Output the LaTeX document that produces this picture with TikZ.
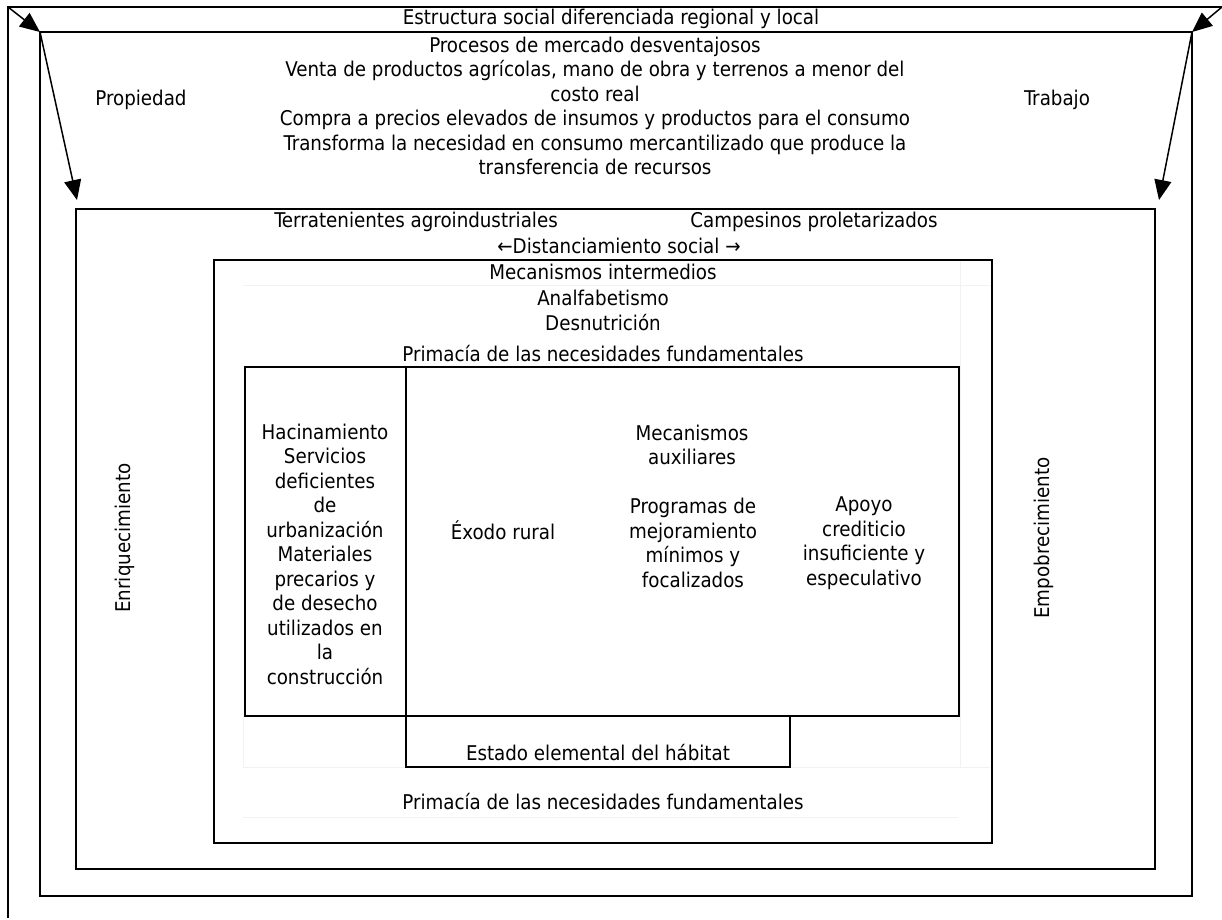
\documentclass[tikz,border=0pt]{standalone}
\usepackage{fontspec}
\setmainfont{DejaVu Sans Condensed}
\usetikzlibrary{arrows.meta,positioning}

\begin{document}
\begin{tikzpicture}[x=1pt,y=-1pt,
  box/.style={line width=2.2pt},
  cell/.style={line width=1pt,black!5},
  lbl/.style={inner sep=0pt,align=center,font=\fontsize{20.3}{24.5}\selectfont},
  link/.style={line width=1.5pt,-{Triangle[length=20pt,width=17pt]}}]
  \useasboundingbox (0,0) rectangle (1222,919);

  % Corners
  \coordinate (o1) at (8,7);
  \coordinate (o2) at (1222,7);
  \coordinate (p1) at (40,32);
  \coordinate (p2) at (1192,32);
  \coordinate (q1) at (77,200);
  \coordinate (q2) at (1159,200);

  % Faint table lines
  \draw[cell] (243,285) -- (992,285);
  \draw[cell] (960,260) -- (960,767);
  \draw[cell] (243,767) -- (990,767);
  \draw[cell] (243,716) -- (243,767);
  \draw[cell] (243,817) -- (958,817);

  % Frames
  \draw[box] (8,918) -- (o1) -- (o2);
  \draw[box] (p1) rectangle (1192,896);
  \draw[box] (76,209) rectangle (1155,869);
  \draw[box] (214,260) rectangle (992,843);
  \draw[box] (245,367) rectangle (959,716);
  \draw[box] (406,367) -- (406,716);
  \draw[box] (406,716) rectangle (790,767);

  % Arrows
  \draw[link] (o1) -- (p1);
  \draw[link] (o2) -- (p2);
  \draw[link] (p1) -- (q1);
  \draw[link] (p2) -- (q2);

  % Labels
  \node[lbl] (titulo) at (611,19) {Estructura social diferenciada regional y local};
  \node[lbl] (mercado) at (595,106) {Procesos de mercado desventajosos\\
    Venta de productos agrícolas, mano de obra y terrenos a menor del\\
    costo real\\
    Compra a precios elevados de insumos y productos para el consumo\\
    Transforma la necesidad en consumo mercantilizado que produce la\\
    transferencia de recursos};
  \node[lbl] (propiedad) at (141,100) {Propiedad};
  \node[lbl] (trabajo) at (1057,100) {Trabajo};
  \node[lbl] (terrat) at (416,222) {Terratenientes agroindustriales};
  \node[lbl] (campes) at (814,222) {Campesinos proletarizados};
  \node[lbl] (distan) at (619,246) {←Distanciamiento social →};
  \node[lbl] (interm) at (603,272) {Mecanismos intermedios};
  \node[lbl] (analf) at (603,298) {Analfabetismo};
  \node[lbl] (desnut) at (603,323) {Desnutrición};
  \node[lbl] (prima1) at (603,354) {Primacía de las necesidades fundamentales};
  \node[lbl] (hacin) at (325,554) {Hacinamiento\\Servicios\\deficientes\\de\\urbanización\\Materiales\\precarios y\\de desecho\\utilizados en\\la\\construcción};
  \node[lbl] (exodo) at (503,530) {Éxodo rural};
  \node[lbl] (auxil) at (692,445) {Mecanismos\\auxiliares};
  \node[lbl] (progr) at (693,543) {Programas de\\mejoramiento\\mínimos y\\focalizados};
  \node[lbl] (apoyo) at (864,543) {Apoyo\\crediticio\\insuficiente y\\especulativo};
  \node[lbl] (estado) at (598,753) {Estado elemental del hábitat};
  \node[lbl] (prima2) at (603,802) {Primacía de las necesidades fundamentales};
  \node[lbl,rotate=90] (enriq) at (125,538) {Enriquecimiento};
  \node[lbl,rotate=90] (empob) at (1044,538) {Empobrecimiento};
\end{tikzpicture}
\end{document}
